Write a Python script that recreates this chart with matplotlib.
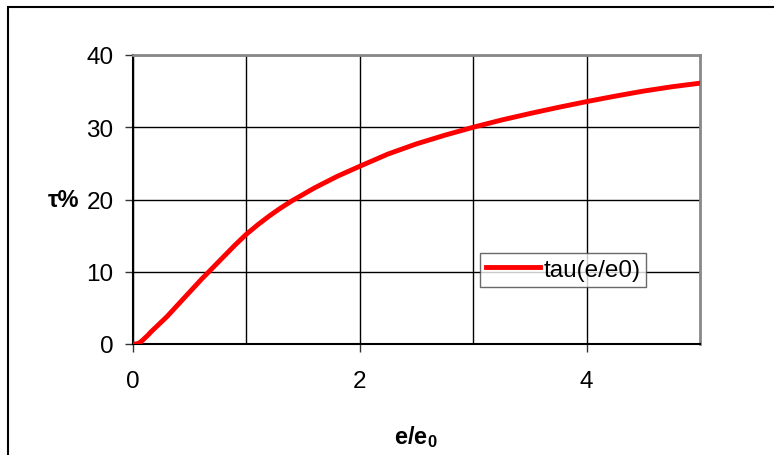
import matplotlib
matplotlib.use("Agg")
import matplotlib.pyplot as plt
from matplotlib.patches import Rectangle

plt.rcParams['font.family'] = ['Liberation Sans', 'DejaVu Sans']
plt.rcParams['mathtext.fontset'] = 'custom'
plt.rcParams['mathtext.rm'] = 'Liberation Sans'
plt.rcParams['mathtext.bf'] = 'Liberation Sans:bold'

# curve
e_ratio = [0, 0.02, 0.04, 0.06, 0.08, 0.1, 0.13, 0.16, 0.2, 0.25, 0.3, 0.4, 0.5,
           0.6, 0.7, 0.8, 0.9, 1.0, 1.1, 1.2, 1.3, 1.4, 1.5, 1.6, 1.8, 2.0, 2.25,
           2.5, 2.75, 3.0, 3.25, 3.5, 3.75, 4.0, 4.25, 4.5, 4.75, 5.0]
tau_pct = [0, 0.0, 0.05, 0.2, 0.45, 0.75, 1.2, 1.7, 2.3, 3.05, 3.8, 5.5, 7.2,
           8.9, 10.5, 12.1, 13.7, 15.2, 16.5, 17.7, 18.8, 19.8, 20.7, 21.6, 23.2, 24.6, 26.3,
           27.7, 28.9, 30.0, 31.0, 31.9, 32.75, 33.55, 34.3, 35.0, 35.6, 36.1]

xticks = [0, 2, 4]
yticks = [0, 10, 20, 30, 40]

fig = plt.figure(figsize=(7.74, 4.56), dpi=100)
ax = fig.add_axes([133/774, 1-345/456, 567/774, 289/456])

ax.plot(e_ratio, tau_pct, color='red', lw=3.5, label='tau(e/e0)', zorder=3,
        solid_joinstyle='round')

ax.set_xlim(0, 5)
ax.set_ylim(0, 40)
ax.set_xticks(xticks)
ax.set_xticks([1, 3], minor=True)
ax.set_yticks(yticks)
ax.grid(True, which='both', color='black', lw=1)
ax.tick_params(which='major', direction='out', length=6, width=1, color='#333333',
               labelsize=17.5, pad=8)
ax.tick_params(axis='x', which='major', pad=13)
ax.tick_params(which='minor', length=0)

for s in ['left', 'bottom']:
    ax.spines[s].set_color('black')
    ax.spines[s].set_linewidth(1.5)
for s in ['top', 'right']:
    ax.spines[s].set_color('#888888')
    ax.spines[s].set_linewidth(2)

leg = ax.legend(loc='lower left', bbox_to_anchor=((480-133)/567, (345-288)/289),
                fontsize=17.5, frameon=True, fancybox=False, handlelength=2.2,
                handletextpad=0.15, borderpad=0.25, borderaxespad=0)
leg.get_frame().set_edgecolor('#444444')
leg.get_frame().set_linewidth(1)

fig.text(64/774, 1-201/456, 'τ%', fontsize=17, fontweight='bold',
         ha='center', va='center')
fig.text(416/774, 1-437/456, r'$\mathbf{e/e_0}$', fontsize=17,
         ha='center', va='center')

# outer chart border (cut off at right and bottom)
fig.patches.append(Rectangle((7.5/774, -0.1), 1.2, 1.1 - 8/456 + 0.001,
                             transform=fig.transFigure, fill=False,
                             edgecolor='black', lw=1.5, clip_on=False))

fig.savefig('out.png', dpi=100)
